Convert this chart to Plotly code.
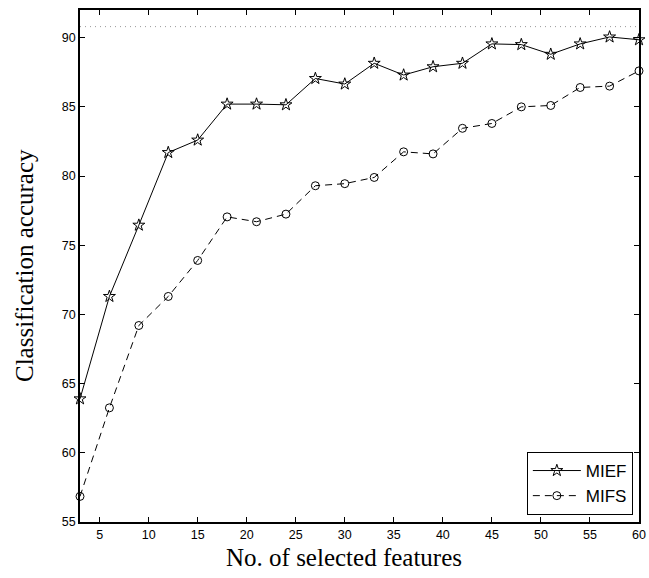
import plotly.graph_objects as go

features = [3, 6, 9, 12, 15, 18, 21, 24, 27, 30, 33, 36, 39, 42, 45, 48, 51, 54, 57, 60]
mief = [63.9, 71.3, 76.45, 81.7, 82.6, 85.2, 85.2, 85.15, 87.05, 86.65,
        88.15, 87.3, 87.9, 88.15, 89.55, 89.5, 88.8, 89.55, 90.05, 89.85]
mifs = [56.85, 63.25, 69.2, 71.3, 73.9, 77.05, 76.7, 77.25, 79.3, 79.45,
        79.9, 81.75, 81.6, 83.45, 83.8, 85.0, 85.1, 86.4, 86.5, 87.6]
ref_x = [3, 60]
ref_y = [90.8, 90.8]

x_ticks = [5, 10, 15, 20, 25, 30, 35, 40, 45, 50, 55, 60]
y_ticks = [55, 60, 65, 70, 75, 80, 85, 90]

fig = go.Figure()
fig.add_trace(go.Scatter(x=ref_x, y=ref_y, mode="lines", showlegend=False,
                         line=dict(color="#999999", width=1, dash="1px,4px"),
                         hoverinfo="skip"))
fig.add_trace(go.Scatter(x=features, y=mief, name="MIEF", mode="lines+markers",
                         line=dict(color="black", width=1),
                         marker=dict(symbol="star-open", size=9, color="black",
                                     line=dict(width=1, color="black")),
                         cliponaxis=False))
fig.add_trace(go.Scatter(x=features, y=mifs, name="MIFS", mode="lines+markers",
                         line=dict(color="black", width=1, dash="7px,5px"),
                         marker=dict(symbol="circle-open", size=8, color="black",
                                     line=dict(width=1, color="black")),
                         cliponaxis=False))

axis_common = dict(showgrid=False, zeroline=False, showline=True, linecolor="black",
                   linewidth=1.5, mirror="ticks", ticks="inside", ticklen=5,
                   tickcolor="black", tickwidth=1, automargin=False,
                   tickfont=dict(family="Liberation Sans, Arial, sans-serif", size=12.5, color="black"))

fig.update_layout(
    width=649, height=578,
    margin=dict(l=80, r=10, t=10, b=56, autoexpand=False),
    paper_bgcolor="white", plot_bgcolor="white",
    xaxis=dict(range=[3, 60], tickvals=x_ticks, **axis_common),
    yaxis=dict(range=[55, 92], tickvals=y_ticks, **axis_common),
    legend=dict(x=0.989, y=0.0137, xanchor="right", yanchor="bottom",
                bordercolor="black", borderwidth=1, bgcolor="white",
                itemwidth=48,
                font=dict(family="Liberation Sans, Arial, sans-serif", size=17, color="black"),
                tracegroupgap=0),
    annotations=[
        dict(text="No. of selected features", xref="paper", yref="paper",
             x=(344 - 80) / 559, y=-(573 - 522) / 512, xanchor="center", yanchor="bottom",
             showarrow=False,
             font=dict(family="Liberation Serif, Times New Roman, serif", size=25, color="black")),
        dict(text="Classification accuracy", xref="paper", yref="paper",
             x=-(80 - 24) / 559, y=0.5, xanchor="center", yanchor="middle",
             showarrow=False, textangle=-90,
             font=dict(family="Liberation Serif, Times New Roman, serif", size=25, color="black")),
    ],
)

fig.write_html("out.html", config={"displayModeBar": False},
               post_script="document.body.style.margin='0';document.body.style.overflow='hidden';")
